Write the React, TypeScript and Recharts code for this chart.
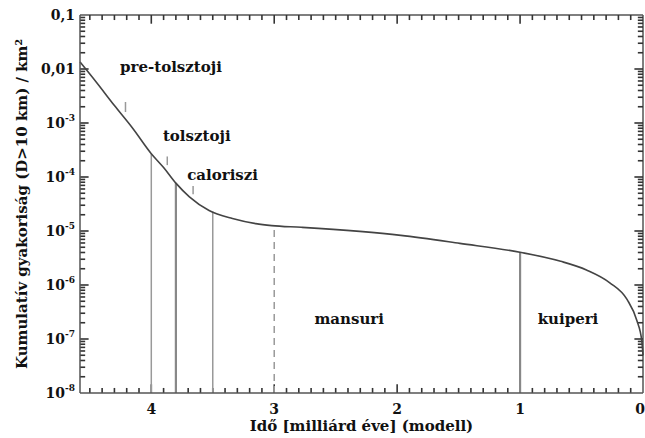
import { LineChart, Line, XAxis, YAxis, ReferenceLine, ReferenceDot } from 'recharts';

// time before present (Gyr) and cumulative crater frequency (D>10 km) per km²
const times = [4.58, 4.45, 4.3, 4.15, 4.0, 3.9, 3.8, 3.69, 3.53, 3.34, 3.15, 3.02, 2.78, 1.97, 1.49, 0.99, 0.67, 0.46, 0.27, 0.13, 0.05, 0.01, 0];
const freqs = [1.35e-2, 5.8e-3, 2.1e-3, 7.9e-4, 2.7e-4, 1.5e-4, 7.7e-5, 4.3e-5, 2.4e-5, 1.7e-5, 1.37e-5, 1.26e-5, 1.17e-5, 8.3e-6, 5.9e-6, 4e-6, 2.75e-6, 1.9e-6, 1.1e-6, 5.4e-7, 2.2e-7, 9.3e-8, 5e-8];

// period boundaries (vertical lines up to the curve)
const boundaryTimes = [4.0, 3.8, 3.5, 3.0, 1.0];
const boundaryTops = [2.7e-4, 7.7e-5, 2.3e-5, 1.26e-5, 4e-6];

// small marks next to the curve
const markTimes = [4.21, 3.87, 3.66];
const markLow = [1.6e-3, 1.66e-4, 4.8e-5];
const markHigh = [2.45e-3, 2.4e-4, 6.8e-5];

// period names
const periodNames = ['pre-tolsztoji', 'tolsztoji', 'caloriszi', 'mansuri', 'kuiperi'];
const periodTimes = [3.84, 3.63, 3.42, 2.39, 0.61];
const periodFreqs = [1.1e-2, 5.9e-4, 1.1e-4, 2.4e-7, 2.4e-7];

const xMajor = [4, 3, 2, 1, 0];
const yMajor = [0.1, 0.01, 1e-3, 1e-4, 1e-5, 1e-6, 1e-7, 1e-8];
const yLabels = ['0,1', '0,01', '10|-3', '10|-4', '10|-5', '10|-6', '10|-7', '10|-8'];

const X_MIN = 0, X_MAX = 4.58, Y_MIN = 1e-8, Y_MAX = 0.1;

const xTicks: number[] = [];
for (let k = 1; k <= 45; k++) xTicks.push(k / 10);
const yTicks: number[] = [];
for (let e = -8; e <= -2; e++) {
  for (let m = 1; m <= 9; m++) {
    const v = Number((m * Math.pow(10, e)).toPrecision(3));
    if (v > Y_MIN && v < Y_MAX) yTicks.push(v);
  }
}

const data = times.map((t, i) => ({ t, f: freqs[i] }));

const W = 645, H = 438;
const LEFT = 80, RIGHT = 643, TOP = 15, BOTTOM = 393;
const AXIS = '#555';
const TICK = '#333';
const FONT = '"DejaVu Serif", serif';

// inward tick lengths, in axis units (about 8 / 5 px)
const X_TICK_MAJOR = 0.07, X_TICK_MINOR = 0.042;
const Y_TICK_MAJOR = 1.45, Y_TICK_MINOR = 1.24;

const isMajorY = (v: number) => {
  const l = Math.log10(v);
  return Math.abs(l - Math.round(l)) < 1e-6;
};
const isMajorX = (v: number) => Math.abs(v - Math.round(v)) < 1e-6;

function LeftTick(p: any) {
  const v = p.payload.value;
  const idx = yMajor.findIndex((m) => Math.abs(Math.log10(m) - Math.log10(v)) < 1e-6);
  if (idx < 0) return <g />;
  const [base, sup] = yLabels[idx].split('|');
  return (
    <text x={p.x} y={p.y + 5} textAnchor="end" fontFamily={FONT} fontWeight="bold" fontSize={14} fill="#111">
      {base}
      {sup ? <tspan dy={-7} fontSize={9}>{sup}</tspan> : null}
    </text>
  );
}

function BottomTick(p: any) {
  const v = p.payload.value;
  if (!xMajor.includes(v)) return <g />;
  return (
    <text x={Math.min(p.x, RIGHT - 3)} y={BOTTOM + 21} textAnchor="middle" fontFamily={FONT} fontWeight="bold" fontSize={14} fill="#111">
      {v}
    </text>
  );
}

const yTitle = () => (
  <text
    x={22}
    y={(TOP + BOTTOM) / 2}
    transform={`rotate(-90 22 ${(TOP + BOTTOM) / 2})`}
    textAnchor="middle"
    dominantBaseline="central"
    fontFamily={FONT}
    fontWeight="bold"
    fontSize={15}
    fill="#111"
  >
    Kumulatív gyakoriság (D&gt;10 km) / km²
  </text>
);

const xTitle = () => (
  <text x={(LEFT + RIGHT) / 2} y={BOTTOM + 38} textAnchor="middle" fontFamily={FONT} fontWeight="bold" fontSize={15} fill="#111">
    Idő [milliárd éve] (modell)
  </text>
);

const tickLines = [
  ...yTicks.map((v) => {
    const d = isMajorY(v) ? X_TICK_MAJOR : X_TICK_MINOR;
    return [
      { key: 'yl' + v, seg: [{ x: X_MAX, y: v }, { x: X_MAX - d, y: v }] },
      { key: 'yr' + v, seg: [{ x: X_MIN, y: v }, { x: X_MIN + d, y: v }] },
    ];
  }),
  ...xTicks.map((t) => {
    const f = isMajorX(t) ? Y_TICK_MAJOR : Y_TICK_MINOR;
    return [
      { key: 'xb' + t, seg: [{ x: t, y: Y_MIN }, { x: t, y: Y_MIN * f }] },
      { key: 'xt' + t, seg: [{ x: t, y: Y_MAX }, { x: t, y: Y_MAX / f }] },
    ];
  }),
].flat();

export default function App() {
  return (
    <div style={{ position: 'absolute', left: 0, top: 0, width: W, height: H, background: '#fff' }}>
      <LineChart width={W} height={H} data={data} margin={{ top: TOP, right: W - RIGHT, bottom: 0, left: 0 }}>
        <XAxis
          dataKey="t" type="number" domain={[X_MIN, X_MAX]} reversed
          ticks={xMajor} interval={0} tickLine={false} tickSize={3} tickMargin={2} tick={BottomTick}
          axisLine={{ stroke: AXIS, strokeWidth: 1.5 }} height={H - BOTTOM} label={xTitle}
        />
        <YAxis
          scale="log" type="number" domain={[Y_MIN, Y_MAX]}
          ticks={yMajor} interval={0} tickLine={false} tickSize={3} tickMargin={2} tick={LeftTick}
          axisLine={{ stroke: AXIS, strokeWidth: 1.5 }} width={LEFT} label={yTitle}
        />
        <ReferenceLine y={Y_MAX} stroke={AXIS} strokeWidth={1.5} />
        <ReferenceLine x={X_MIN} stroke={AXIS} strokeWidth={1.5} />
        {tickLines.map((tl) => (
          <ReferenceLine key={tl.key} segment={tl.seg} stroke={TICK} strokeWidth={1.6} ifOverflow="visible" />
        ))}
        {boundaryTimes.map((t, i) => (
          <ReferenceLine
            key={'b' + i}
            segment={[{ x: t, y: Y_MIN }, { x: t, y: boundaryTops[i] }]}
            stroke={t === 3.8 || t === 1.0 ? '#888' : '#999'}
            strokeWidth={t === 3.8 || t === 1.0 ? 2.2 : 1.5}
            strokeDasharray={t === 3.0 ? '7 5' : undefined}
          />
        ))}
        {markTimes.map((t, i) => (
          <ReferenceLine key={'m' + i} segment={[{ x: t, y: markLow[i] }, { x: t, y: markHigh[i] }]} stroke="#999" strokeWidth={1.5} />
        ))}
        {periodNames.map((n, i) => (
          <ReferenceDot
            key={n} x={periodTimes[i]} y={periodFreqs[i]} r={0} fill="none" stroke="none"
            label={{ value: n, position: 'center', fontFamily: FONT, fontWeight: 'bold', fontSize: 15, fill: '#111' }}
          />
        ))}
        <Line type="monotone" dataKey="f" stroke="#444" strokeWidth={1.6} dot={false} isAnimationActive={false} />
      </LineChart>
    </div>
  );
}
